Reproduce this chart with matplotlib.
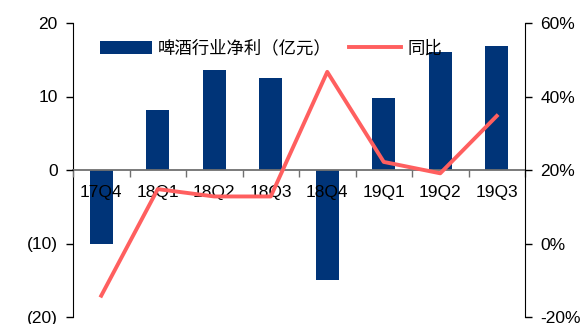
import matplotlib
matplotlib.use("Agg")
import matplotlib.pyplot as plt
import numpy as np

categories = ["17Q4", "18Q1", "18Q2", "18Q3", "18Q4", "19Q1", "19Q2", "19Q3"]
profit = [-10.1, 8.1, 13.6, 12.5, -14.9, 9.8, 16.0, 16.9]
yoy = [-14.2, 14.8, 12.8, 12.8, 46.7, 22.2, 19.1, 34.7]
left_ticks = [-20, -10, 0, 10, 20]
left_labels = ["(20)", "(10)", "0", "10", "20"]
right_ticks = [-20, 0, 20, 40, 60]
right_labels = ["-20%", "0%", "20%", "40%", "60%"]

plt.rcParams['font.family'] = ['Liberation Sans', 'Noto Sans CJK SC', 'DejaVu Sans']

fig = plt.figure(figsize=(5.87, 3.24), dpi=100)
ax = fig.add_axes([73/587, 1-317/324, (525-73)/587, (317-23)/324])
x = np.arange(len(categories))
bars = ax.bar(x, profit, width=0.4, color="#003478", zorder=1)
ax.set_axisbelow(False)
ax.set_xlim(-0.5, len(categories)-0.5)
ax.set_ylim(-20, 20)
ax.set_yticks(left_ticks)
ax.set_yticklabels(left_labels, fontsize=12.5)
ax.spines['top'].set_visible(False)
ax.spines['right'].set_visible(False)
ax.spines['bottom'].set_position(('data', 0))
ax.spines['bottom'].set_color('#707070')
ax.spines['bottom'].set_linewidth(1.3)
ax.spines['left'].set_color('black')
ax.tick_params(axis='y', length=5, width=1, direction='out', pad=6, colors='black')
ax.set_xticks(x)
ax.set_xticklabels(categories, fontsize=12.5)
ax.tick_params(axis='x', which='major', length=0, pad=11)
ax.set_xticks(np.arange(-0.5, len(categories)+0.5, 1), minor=True)
ax.tick_params(axis='x', which='minor', length=5, width=1, color='#707070', direction='out')

ax2 = ax.twinx()
line, = ax2.plot(x, yoy, color="#FF5F5F", linewidth=2.8, zorder=4)
ax2.set_ylim(-20, 60)
ax2.set_yticks(right_ticks)
ax2.set_yticklabels(right_labels, fontsize=12.5)
ax2.spines['top'].set_visible(False)
ax2.spines['left'].set_visible(False)
ax2.spines['bottom'].set_visible(False)
ax2.tick_params(axis='y', length=5, width=1, direction='out', pad=6)

leg = ax2.legend([bars, line], ["啤酒行业净利（亿元）", "同比"], ncol=2, frameon=False,
                 loc='upper left', bbox_to_anchor=(0.032, 0.985),
                 handlelength=3.0, handleheight=0.75, columnspacing=1.0, handletextpad=0.35,
                 borderpad=0.2,
                 prop={'family': ['Noto Sans CJK SC', 'DejaVu Sans'], 'size': 12.5})

fig.savefig("out.png", dpi=100)
